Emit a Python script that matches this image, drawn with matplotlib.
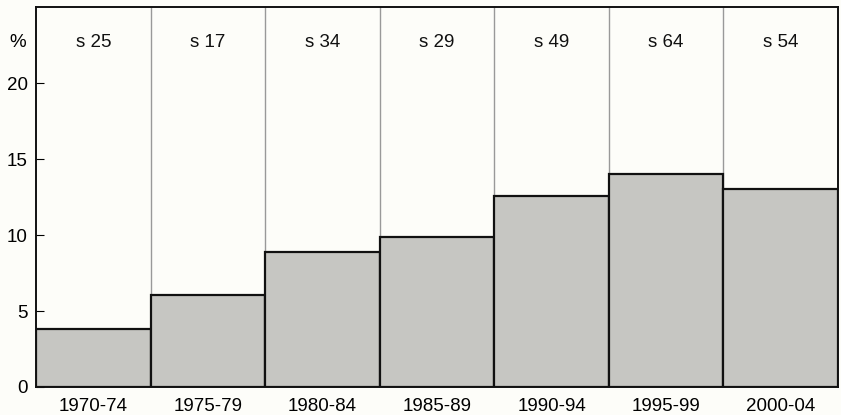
import matplotlib
matplotlib.use("Agg")
import matplotlib.pyplot as plt

periods = ["1970-74", "1975-79", "1980-84", "1985-89", "1990-94", "1995-99", "2000-04"]
values = [3.8, 6.05, 8.9, 9.85, 12.6, 14.0, 13.0]
sample_labels = ["s 25", "s 17", "s 34", "s 29", "s 49", "s 64", "s 54"]
yticks = [0, 5, 10, 15, 20]

plt.rcParams['font.family'] = ['Liberation Sans', 'DejaVu Sans']

fig = plt.figure(figsize=(8.41, 4.15), dpi=100, facecolor="#fdfdf9")
ax = fig.add_axes([0.0428, 0.0675, 0.9536, 0.9155])
ax.set_facecolor("#fdfdf9")

x = list(range(len(periods)))
ax.bar(x, values, width=1.0, color="#c6c6c2", edgecolor="#111111", linewidth=1.6, zorder=3)

for b in range(1, len(periods)):
    ax.axvline(b - 0.5, color="#999999", linewidth=1.0, zorder=2)

for xi, lab in zip(x, sample_labels):
    ax.text(xi, 22.7, lab, ha="center", va="center", fontsize=13.5, color="#111111")

ax.set_xlim(-0.5, len(periods) - 0.5)
ax.set_ylim(0, 25)
ax.set_xticks(x)
ax.set_xticklabels(periods, fontsize=13.5)
ax.tick_params(axis="x", length=0, pad=8)
ax.set_yticks(yticks)
ax.set_yticklabels([str(t) for t in yticks], fontsize=13.5)
ax.tick_params(axis="y", direction="in", length=6, width=0.8, pad=6)
ax.text(-0.023, 22.7, "%", transform=ax.get_yaxis_transform(), ha="center", va="center", fontsize=13.5)

for s in ax.spines.values():
    s.set_linewidth(1.4)
    s.set_color("#111111")

fig.savefig("out.png", dpi=100, facecolor=fig.get_facecolor())
